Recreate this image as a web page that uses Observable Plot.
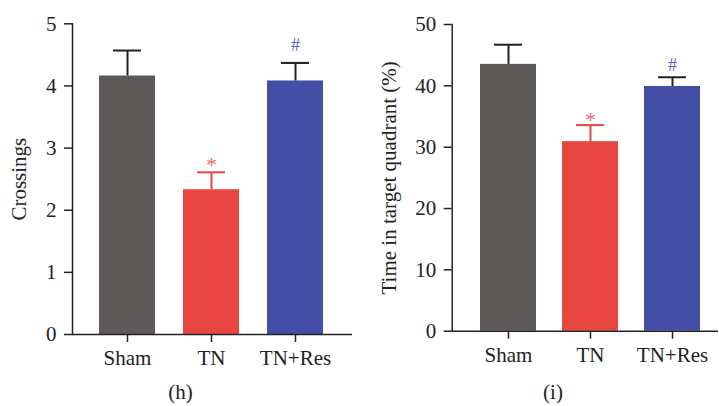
<!DOCTYPE html>
<html><head><meta charset="utf-8">
<script src="https://cdn.jsdelivr.net/npm/d3@7"></script>
<script src="https://cdn.jsdelivr.net/npm/@observablehq/plot@0.6"></script>
<style>
body{margin:0;background:#fff;}
#wrap{position:relative;width:719px;height:406px;overflow:hidden;font-family:"Liberation Serif",serif;color:#222;background:#fff;}
.panel{position:absolute;top:0;}
.cap{position:absolute;font-size:21px;line-height:20px;transform:translateX(-50%);white-space:nowrap;color:#222;}
</style></head><body>
<div id="wrap">
  <div id="left" class="panel" style="left:0"></div>
  <div id="right" class="panel" style="left:360px"></div>
  <div class="cap" style="left:180.5px;top:382px">(h)</div>
  <div class="cap" style="left:553px;top:382px">(i)</div>
</div>
<script>
const groups = ["Sham", "TN", "TN+Res"];
const crossMean = [4.16, 2.33, 4.08];
const crossErr = [0.41, 0.28, 0.29];
const timeMean = [43.5, 30.9, 39.9];
const timeErr = [3.2, 2.7, 1.5];
const crossTicks = [0, 1, 2, 3, 4, 5];
const timeTicks = [0, 10, 20, 30, 40, 50];
const sigMarks = ["", "*", "#"];
const crossLabel = "Crossings";
const timeLabel = "Time in target quadrant (%)";

const barColors = ["#5e5a59", "#e84640", "#454ea6"];

function panel(o) {
  const data = groups.map((g, i) => ({g, m: o.mean[i], e: o.err[i], s: sigMarks[i]}));
  const top = d => d.m + d.e;
  return Plot.plot({
    width: o.width, height: 380,
    marginLeft: o.mL, marginRight: o.mR, marginTop: o.mT, marginBottom: o.mB,
    style: {fontFamily: '"Liberation Serif", serif', fontSize: "21px", color: "#222", background: "#fff", overflow: "visible"},
    x: {domain: groups, paddingInner: o.pi, paddingOuter: o.po, align: o.align},
    y: {domain: [0, o.ticks[o.ticks.length - 1]]},
    color: {domain: groups, range: barColors},
    marks: [
      Plot.barY(data, {x: "g", y: "m", fill: "g"}),
      Plot.ruleX(data.filter(d => d.g !== "TN"), {x: "g", y1: "m", y2: top, stroke: "#222", strokeWidth: 2}),
      Plot.ruleX(data.filter(d => d.g === "TN"), {x: "g", y1: "m", y2: top, stroke: "#e84640", strokeWidth: 2}),
      Plot.tickY(data.filter(d => d.g !== "TN"), {x: "g", y: top, insetLeft: 14, insetRight: 14, stroke: "#222", strokeWidth: 2}),
      Plot.tickY(data.filter(d => d.g === "TN"), {x: "g", y: top, insetLeft: 14, insetRight: 14, stroke: "#e84640", strokeWidth: 2}),
      Plot.text(data.filter(d => d.s === "*"), {x: "g", y: top, text: "s", fill: "#f06a68", fontSize: 22, dy: o.dyStar}),
      Plot.text(data.filter(d => d.s === "#"), {x: "g", y: top, text: "s", fill: "#5c64c4", fontSize: 18, dy: o.dyHash}),
      Plot.axisY({ticks: o.ticks, tickFormat: d3.format("d"), tickSize: 8, tickPadding: 8, label: null, fontSize: 21, strokeWidth: 1.5}),
      Plot.axisX({tickSize: 8, tickPadding: 8, label: null, fontSize: 21, strokeWidth: 1.5}),
      Plot.ruleY([0], {stroke: "#222", strokeWidth: 1.5}),
      Plot.frame({anchor: "left", stroke: "#222", strokeWidth: 1.5}),
      Plot.text([o.label], {frameAnchor: "left", textAnchor: "middle", lineAnchor: "middle", rotate: -90, dx: o.labelDx, fontSize: 21, text: d => d, fill: "#222"})
    ]
  });
}

document.getElementById("left").append(panel({
  mean: crossMean, err: crossErr, ticks: crossTicks, label: crossLabel,
  width: 360, mL: 72, mR: 8, mT: 23.3, mB: 46,
  pi: 1/3, po: 0.333, align: 0.48, labelDx: -53, dyStar: -7.5, dyHash: -17.6
}));
document.getElementById("right").append(panel({
  mean: timeMean, err: timeErr, ticks: timeTicks, label: timeLabel,
  width: 359, mL: 91.7, mR: 1, mT: 24, mB: 49.3,
  pi: 0.321, po: 0.2745, align: 0.6, labelDx: -62.7, dyStar: -5.2, dyHash: -11.6
}));
</script>
</body></html>
